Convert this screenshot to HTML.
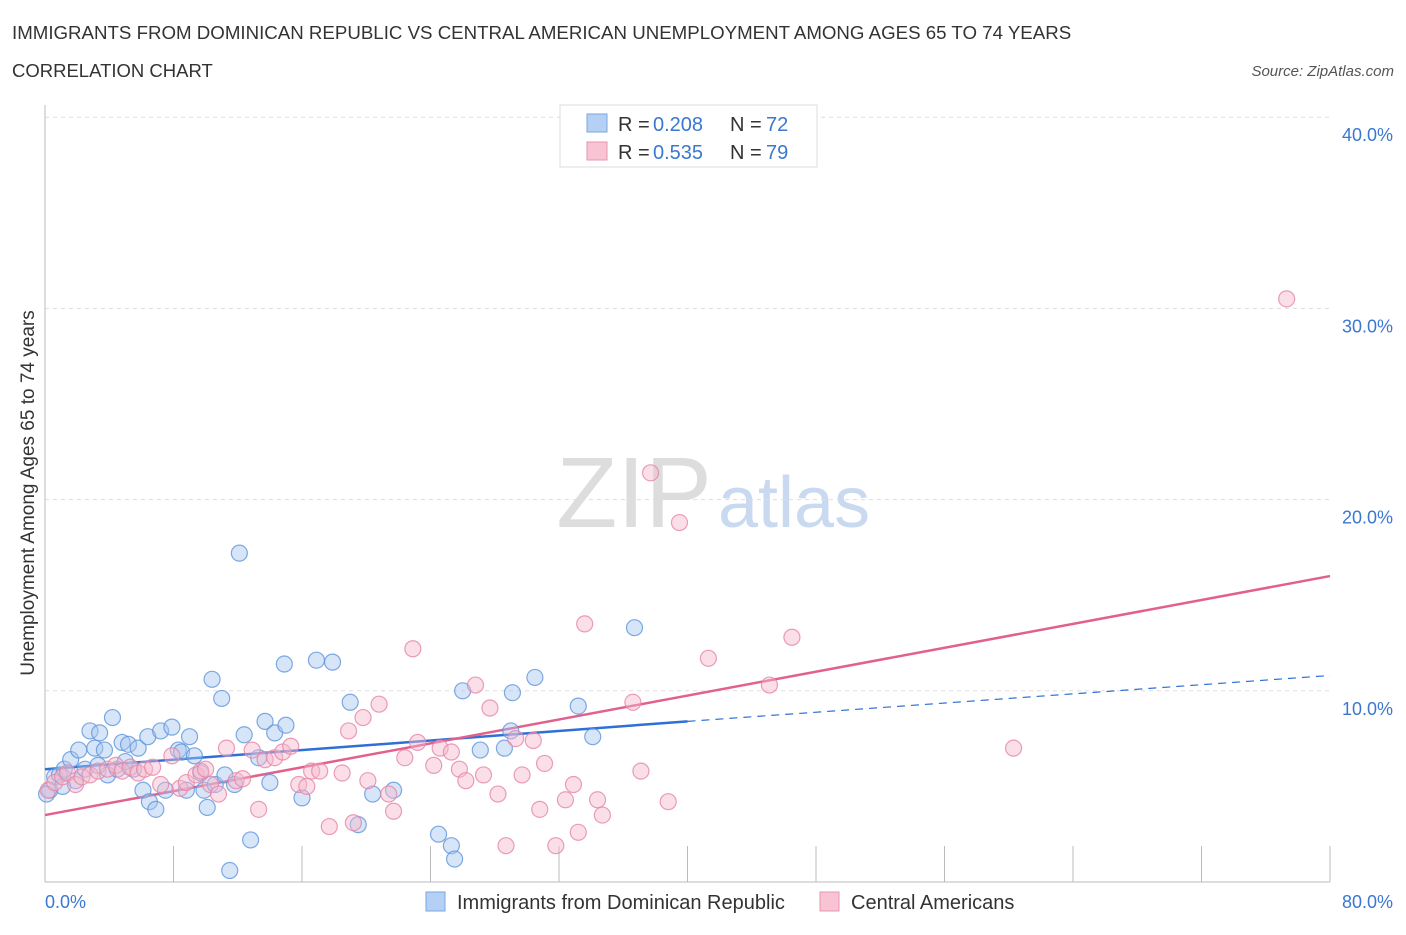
<!DOCTYPE html>
<html><head><meta charset="utf-8">
<style>
body{margin:0;background:#fff;font-family:"Liberation Sans",sans-serif;}
svg text{font-family:"Liberation Sans",sans-serif;}
</style></head>
<body>
<svg id="chart" width="1406" height="930" xmlns="http://www.w3.org/2000/svg">
<text x="12" y="39" font-size="18.7" fill="#333">IMMIGRANTS FROM DOMINICAN REPUBLIC VS CENTRAL AMERICAN UNEMPLOYMENT AMONG AGES 65 TO 74 YEARS</text>
<text x="12" y="77" font-size="18.5" fill="#333">CORRELATION CHART</text>
<text x="1394" y="76" font-size="15" fill="#555" font-style="italic" text-anchor="end">Source: ZipAtlas.com</text>
<g>
<text x="634" y="527" font-size="100" fill="#ddd" text-anchor="middle" font-family="Liberation Serif, serif">ZIP</text>
<text x="718" y="527" font-size="72" fill="#c9daf0">atlas</text>
</g>
<g id="grid"></g>
<g id="axes"></g>
<g id="lines"></g>
<g id="pts"></g>
<text x="34" y="493" font-size="19" fill="#333" text-anchor="middle" transform="rotate(-90 34 493)">Unemployment Among Ages 65 to 74 years</text>
<g>
<rect x="560" y="105" width="257" height="62" fill="#fff" stroke="#ddd"/>
<rect x="587" y="114" width="20" height="18" fill="#b5d0f5" stroke="#7aa7e0"/>
<text x="618" y="131" font-size="20" fill="#333">R =</text>
<text x="653" y="131" font-size="20" fill="#3a78d0">0.208</text>
<text x="730" y="131" font-size="20" fill="#333">N =</text>
<text x="766" y="131" font-size="20" fill="#3a78d0">72</text>
<rect x="587" y="142" width="20" height="18" fill="#f8c4d4" stroke="#e895b0"/>
<text x="618" y="159" font-size="20" fill="#333">R =</text>
<text x="653" y="159" font-size="20" fill="#3a78d0">0.535</text>
<text x="730" y="159" font-size="20" fill="#333">N =</text>
<text x="766" y="159" font-size="20" fill="#3a78d0">79</text>
</g>
<g>
<rect x="426" y="892" width="19" height="19" fill="#b5d0f5" stroke="#7aa7e0"/>
<text x="457" y="909" font-size="20" fill="#333">Immigrants from Dominican Republic</text>
<rect x="820" y="892" width="19" height="19" fill="#f8c4d4" stroke="#e895b0"/>
<text x="851" y="909" font-size="20" fill="#333">Central Americans</text>
</g>
</svg>
<script>
const blueX=[0.3,0.6,0.9,1.2,1.6,1.9,2.1,2.5,2.8,3.1,3.4,3.7,3.9,4.2,4.5,4.8,5.2,5.5,5.8,6.1,6.4,6.5,6.9,7.2,7.5,7.9,8.3,8.5,8.8,9.0,9.3,9.7,9.9,10.1,10.4,10.6,11.0,11.2,11.5,11.8,12.1,12.4,12.8,13.3,13.7,14.0,14.3,14.9,15.0,16.0,16.9,17.9,19.0,19.5,20.4,21.7,24.5,25.3,25.5,26.0,27.1,28.6,29.0,29.1,30.5,33.2,34.1,36.7,1.1,3.3,5.0,0.1];
const blueY=[4.8,5.5,5.6,5.9,6.4,5.3,6.9,5.9,7.9,7.0,7.8,6.9,5.6,8.6,5.9,7.3,7.2,5.9,7.0,4.8,7.6,4.2,3.8,7.9,4.8,8.1,6.9,6.8,4.8,7.6,6.6,5.7,4.8,3.9,10.6,5.1,9.6,5.6,0.6,5.1,17.2,7.7,2.2,6.5,8.4,5.2,7.8,11.4,8.2,4.4,11.6,11.5,9.4,3.0,4.6,4.8,2.5,1.9,1.2,10.0,6.9,7.0,7.9,9.9,10.7,9.2,7.6,13.3,5.0,6.1,6.3,4.6];
const pinkX=[0.2,0.6,1.1,1.4,1.9,2.3,2.8,3.3,3.9,4.4,4.8,5.3,5.8,6.2,6.7,7.2,7.9,8.4,8.8,9.4,9.7,10.0,10.3,10.8,11.3,11.9,12.3,12.9,13.3,13.7,14.3,14.8,15.3,15.8,16.3,16.6,17.1,17.7,18.5,18.9,19.2,19.8,20.1,20.8,21.4,21.7,22.4,22.9,23.2,24.2,24.6,25.3,25.8,26.2,26.8,27.3,27.7,28.2,28.7,29.3,29.7,30.4,30.8,31.1,31.8,32.4,32.9,33.2,33.6,34.4,34.7,36.6,37.1,37.7,38.8,39.5,41.3,45.1,46.5,60.3,77.3];
const pinkY=[4.8,5.2,5.5,5.7,5.1,5.5,5.6,5.8,5.9,6.1,5.8,6.0,5.7,5.9,6.0,5.1,6.6,4.9,5.2,5.6,5.8,5.9,5.1,4.6,7.0,5.3,5.4,6.9,3.8,6.4,6.5,6.8,7.1,5.1,5.0,5.8,5.8,2.9,5.7,7.9,3.1,8.6,5.3,9.3,4.6,3.7,6.5,12.2,7.3,6.1,7.0,6.8,5.9,5.3,10.3,5.6,9.1,4.6,1.9,7.5,5.6,7.4,3.8,6.2,1.9,4.3,5.1,2.6,13.5,4.3,3.5,9.4,5.8,21.4,4.2,18.8,11.7,10.3,12.8,7.0,30.5];
const yTicks=[10,20,30,40];
const yTickLabels=["10.0%","20.0%","30.0%","40.0%"];
const blueTrend=[[0,5.9],[40,8.4],[80,10.8]];
const pinkTrend=[[0,3.5],[80,16.0]];

const X0=45,X1=1330,Y0=882,PY=19.12;
const sx=v=>X0+(X1-X0)*v/80;
const sy=v=>Y0-v*PY;
const NS="http://www.w3.org/2000/svg";
function mk(tag,attrs,parent){const e=document.createElementNS(NS,tag);for(const k in attrs)e.setAttribute(k,attrs[k]);parent.appendChild(e);return e;}
const grid=document.getElementById('grid'),axes=document.getElementById('axes'),lines=document.getElementById('lines'),pts=document.getElementById('pts');
yTicks.forEach((t,i)=>{
  const l=mk('line',{x1:X0,x2:X1,y1:sy(t),y2:sy(t),stroke:'#ddd','stroke-dasharray':'4,4'},grid);
  
  
  const tx=mk('text',{x:1393,y:sy(t)+24,'font-size':18,fill:'#3a78d0','text-anchor':'end'},axes);
  tx.textContent=yTickLabels[i];
  
  
});
const yl=mk('line',{x1:X0,x2:X0,y1:105,y2:Y0,stroke:'#bbb'},axes);


const xl=mk('line',{x1:X0,x2:X1,y1:Y0,y2:Y0,stroke:'#bbb'},axes);


for(let i=0;i<=10;i++){
  const t=mk('line',{x1:sx(i*8),x2:sx(i*8),y1:Y0,y2:Y0-36,stroke:'#bbb'},axes);
  
  
}
const xa=mk('text',{x:45,y:908,'font-size':18,fill:'#3a78d0'},axes);xa.textContent='0.0%';


const xb=mk('text',{x:1393,y:908,'font-size':18,fill:'#3a78d0','text-anchor':'end'},axes);xb.textContent='80.0%';



function dot(x,y,fill,stroke,name){
  const c=mk('circle',{cx:sx(x),cy:sy(y),r:8,fill:fill,'fill-opacity':0.45,stroke:stroke,'stroke-width':1.2,'stroke-opacity':0.8},pts);
  
  
}
blueX.forEach((x,i)=>dot(x,blueY[i],'#a6c6f0','#5f95dc','point-dominican'));
pinkX.forEach((x,i)=>dot(x,pinkY[i],'#f6b7cb','#e685a6','point-central'));

const b1=mk('line',{x1:sx(blueTrend[0][0]),y1:sy(blueTrend[0][1]),x2:sx(blueTrend[1][0]),y2:sy(blueTrend[1][1]),stroke:'#2f6fd6','stroke-width':2.5},lines);


const b2=mk('line',{x1:sx(blueTrend[1][0]),y1:sy(blueTrend[1][1]),x2:sx(blueTrend[2][0]),y2:sy(blueTrend[2][1]),stroke:'#2f6fd6','stroke-width':1.2,'stroke-dasharray':'8,6'},lines);


const p1=mk('line',{x1:sx(pinkTrend[0][0]),y1:sy(pinkTrend[0][1]),x2:sx(pinkTrend[1][0]),y2:sy(pinkTrend[1][1]),stroke:'#e2608c','stroke-width':2.5},lines);


</script>
</body></html>
